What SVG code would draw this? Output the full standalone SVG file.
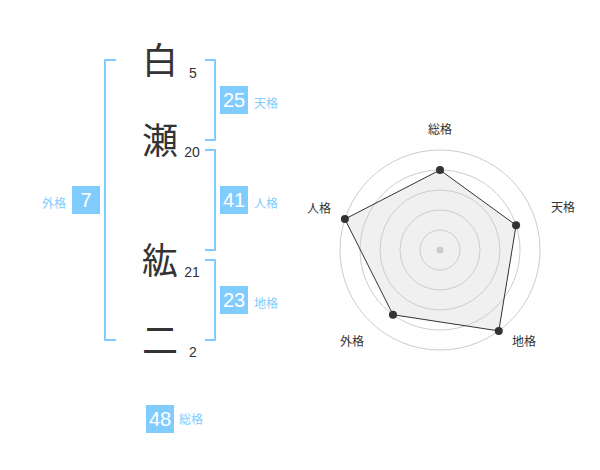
<svg xmlns="http://www.w3.org/2000/svg" width="600" height="470" viewBox="0 0 600 470">
<style>
.ch{font-family:"Noto Sans CJK JP","Noto Sans CJK SC",sans-serif;font-size:36px;fill:#333;text-anchor:middle}
.num{font-family:"Liberation Sans",Arial,sans-serif;font-size:14px;fill:#333;text-anchor:middle}
.br{fill:none;stroke:#80ccff;stroke-width:2}
.box{fill:#80ccff}
.bt{font-family:"Liberation Sans",Arial,sans-serif;font-size:20px;fill:#fff;text-anchor:middle}
.lb{font-family:"Noto Sans CJK JP","Noto Sans CJK SC",sans-serif;font-size:12px;fill:#80ccff}
.ring{fill:none;stroke:#ccc;stroke-width:1}
.ax{font-family:"Noto Sans CJK JP","Noto Sans CJK SC",sans-serif;font-size:12px;fill:#333;text-anchor:middle}
.pt{fill:#333}
</style>
<rect width="600" height="470" fill="#fff"/>
<g id="name">
<g id="c1"><text class="ch" x="160" y="74">白</text><text class="num" x="193" y="78">5</text></g>
<g id="c2"><text class="ch" x="160" y="154">瀬</text><text class="num" x="192" y="157">20</text></g>
<g id="c3"><text class="ch" x="160" y="274">紘</text><text class="num" x="192" y="277">21</text></g>
<g id="c4"><text class="ch" x="160" y="354">二</text><text class="num" x="193" y="357">2</text></g>
</g>
<g id="connectors">
<path class="br" d="M116,60H105V340H116"/>
<path class="br" d="M205,60H215V140H205"/>
<path class="br" d="M205,150H215V250H205"/>
<path class="br" d="M205,260H215V340H205"/>
</g>
<g id="tenkaku"><rect class="box" x="220" y="86" width="28" height="28"/><text class="bt" x="234" y="107">25</text><text class="lb" x="254" y="108">天格</text></g>
<g id="jinkaku"><rect class="box" x="220" y="186" width="28" height="28"/><text class="bt" x="234" y="207">41</text><text class="lb" x="254" y="208">人格</text></g>
<g id="chikaku"><rect class="box" x="220" y="286" width="28" height="28"/><text class="bt" x="234" y="307">23</text><text class="lb" x="254" y="308">地格</text></g>
<g id="gaikaku"><rect class="box" x="72" y="186" width="28" height="28"/><text class="bt" x="86" y="207">7</text><text class="lb" x="66" y="208" text-anchor="end">外格</text></g>
<g id="soukaku"><rect class="box" x="146" y="405" width="28" height="28"/><text class="bt" x="160" y="426">48</text><text class="lb" x="179" y="424">総格</text></g>
<g id="radar">
<polygon points="440,170 516.08,225.28 498.78,330.9 392.98,314.72 344.89,219.1" fill="#f0f0f0" stroke="none"/>
<circle class="ring" cx="440" cy="250" r="20"/>
<circle class="ring" cx="440" cy="250" r="40"/>
<circle class="ring" cx="440" cy="250" r="60"/>
<circle class="ring" cx="440" cy="250" r="80"/>
<circle class="ring" cx="440" cy="250" r="100"/>
<circle cx="440" cy="250" r="3.5" fill="#ccc"/>
<polygon points="440,170 516.08,225.28 498.78,330.9 392.98,314.72 344.89,219.1" fill="none" stroke="#333" stroke-width="1"/>
<circle class="pt" cx="440" cy="170" r="4"/>
<circle class="pt" cx="516.08" cy="225.28" r="4"/>
<circle class="pt" cx="498.78" cy="330.9" r="4"/>
<circle class="pt" cx="392.98" cy="314.72" r="4"/>
<circle class="pt" cx="344.89" cy="219.1" r="4"/>
<text class="ax" x="440" y="134">総格</text>
<text class="ax" x="563" y="212">天格</text>
<text class="ax" x="524" y="346">地格</text>
<text class="ax" x="352" y="346">外格</text>
<text class="ax" x="319" y="213">人格</text>
</g>
</svg>
